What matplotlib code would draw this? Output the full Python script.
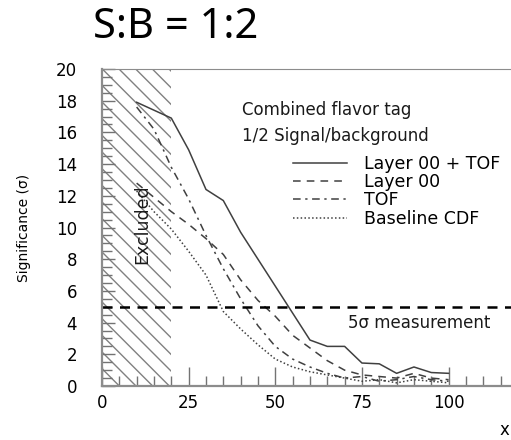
import numpy as np
import matplotlib
matplotlib.use('Agg')
import matplotlib.pyplot as plt
from matplotlib.ticker import MultipleLocator

# Datos (significancia vs x)
x = [10, 15, 20, 25, 30, 35, 40, 45, 50, 55, 60, 65, 70, 75, 80, 85, 90, 95, 100]
layer00_tof = [17.9, 17.4, 16.9, 14.9, 12.4, 11.7, 9.7, 8.0, 6.3, 4.6, 2.9,
               2.5, 2.5, 1.45, 1.4, 0.8, 1.2, 0.85, 0.8]
layer00 = [12.8, 11.9, 11.0, 10.2, 9.3, 8.3, 6.7, 5.4, 4.4, 3.2, 2.4,
           1.6, 1.0, 0.7, 0.6, 0.5, 0.8, 0.5, 0.4]
tof = [17.6, 16.2, 13.8, 11.8, 9.5, 7.4, 5.5, 3.8, 2.5, 1.7, 1.2,
       0.8, 0.5, 0.6, 0.3, 0.4, 0.6, 0.4, 0.3]
baseline = [12.3, 11.0, 9.9, 8.5, 7.0, 4.7, 3.6, 2.6, 1.7, 1.2, 0.9,
            0.7, 0.5, 0.3, 0.4, 0.2, 0.4, 0.3, 0.2]

series = [
    (layer00_tof, '-', 'Layer 00 + TOF'),
    (layer00, (0, (5, 4)), 'Layer 00'),
    (tof, (0, (5, 3, 1.5, 3)), 'TOF'),
    (baseline, (0, (1, 1.5)), 'Baseline CDF'),
]

excluded = (0, 20)
threshold = 5

plt.rcParams['font.family'] = ['DejaVu Sans']
plt.rcParams['hatch.linewidth'] = 1.0

fig = plt.figure(figsize=(5.11, 4.4), dpi=100)
ax = fig.add_axes([0.1996, 0.1227, 0.8004, 0.7205])

ax.axvspan(excluded[0], excluded[1], facecolor='none', edgecolor='0.5',
           hatch='\\\\', linewidth=0)
ax.text(11.6, 10.2, 'Excluded', rotation=90, fontsize=12.5,
        ha='center', va='center', color='0.1')

for ys, ls, lab in series:
    ax.plot(x, ys, linestyle=ls, color='0.25', linewidth=1.1, label=lab)

ax.axhline(threshold, color='black', linestyle=(0, (4, 3)), linewidth=1.8)
ax.text(71, 4.0, '5σ measurement', fontsize=12, va='center', color='0.1')

ax.text(40.4, 17.4, 'Combined flavor tag', fontsize=12, va='center', color='0.1')
ax.text(40.4, 15.8, '1/2 Signal/background', fontsize=12, va='center', color='0.1')

ax.legend(loc='upper left', bbox_to_anchor=(0.467, 0.73), frameon=False,
          fontsize=12.5, handlelength=3.1, handletextpad=1.0,
          labelspacing=0.02, borderpad=0, borderaxespad=0)

ax.set_xlim(0, 118)
ax.set_ylim(0, 20)
ax.xaxis.set_major_locator(MultipleLocator(25))
ax.xaxis.set_minor_locator(MultipleLocator(5))
ax.yaxis.set_major_locator(MultipleLocator(2))
ax.yaxis.set_minor_locator(MultipleLocator(0.5))
ax.tick_params(axis='both', which='both', direction='in', colors='0.45',
               labelcolor='black', labelsize=12)
ax.tick_params(axis='x', which='major', length=14, width=1, pad=6)
ax.tick_params(axis='x', which='minor', length=7, width=1)
ax.tick_params(axis='y', which='major', length=9, width=1, pad=18)
ax.tick_params(axis='y', which='minor', length=7, width=1)

for s in ax.spines.values():
    s.set_color('0.55')
ax.spines['left'].set_linewidth(1.6)
ax.spines['bottom'].set_linewidth(1.6)
ax.spines['right'].set_visible(False)

ax.set_ylabel('Significance (σ)', fontsize=10, labelpad=18)
fig.text(0.988, 0.022, 'x', fontsize=12, ha='center', va='center')

fig.text(0.344, 0.939, 'S:B = 1:2', fontsize=30, family=['Noto Sans', 'DejaVu Sans'],
         ha='center', va='center')

fig.savefig('out.png', dpi=100)
